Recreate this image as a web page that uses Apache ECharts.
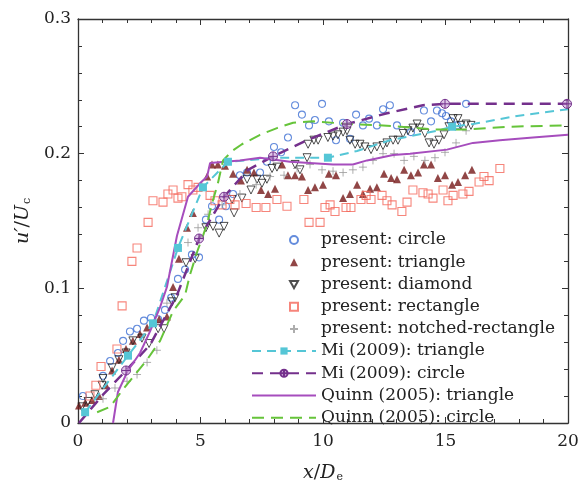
<!DOCTYPE html>
<html>
<head>
<meta charset="utf-8">
<script src="https://cdn.jsdelivr.net/npm/echarts@6/dist/echarts.min.js"></script>
<style>
  html, body { margin: 0; padding: 0; background: #fff; }
  #chart { width: 582px; height: 488px; }
</style>
</head>
<body>
<div id="chart"></div>
<script>
// present measurements, [x/De, u'/Uc]
var circlePts = [[0.20,0.020],[1.02,0.035],[1.31,0.046],[1.63,0.052],[1.84,0.061],[2.12,0.068],[2.41,0.070],[2.69,0.076],[2.98,0.078],[3.27,0.077],
    [3.55,0.084],[3.80,0.093],[4.08,0.107],[4.37,0.114],[4.65,0.125],[4.94,0.123],[5.22,0.151],[5.47,0.161],[5.76,0.151],[6.04,0.161],
    [6.33,0.170],[6.61,0.184],[6.90,0.186],[7.43,0.186],[7.71,0.194],[8.00,0.205],[8.29,0.201],[8.57,0.212],[8.86,0.236],[9.14,0.229],
    [9.43,0.221],[9.67,0.225],[9.96,0.237],[10.24,0.224],[10.53,0.210],[10.82,0.223],[11.10,0.211],[11.35,0.229],[11.63,0.221],[11.88,0.226],
    [12.20,0.221],[12.45,0.233],[12.73,0.236],[13.02,0.221],[13.59,0.216],[14.12,0.232],[14.41,0.224],[14.65,0.232],[14.86,0.230],[15.02,0.228],
    [15.22,0.224],[15.47,0.221],[15.84,0.237]];
var trianglePts = [[0.04,0.013],[0.29,0.015],[0.57,0.017],[0.86,0.020],[1.14,0.028],[1.39,0.039],[1.67,0.047],[1.96,0.055],[2.24,0.061],[2.53,0.066],
    [2.82,0.071],[3.31,0.077],[3.63,0.079],[3.88,0.101],[4.12,0.122],[4.45,0.145],[4.69,0.156],[5.27,0.183],[5.47,0.192],[5.71,0.192],
    [6.00,0.191],[6.33,0.185],[6.65,0.180],[6.90,0.188],[7.18,0.186],[7.47,0.173],[7.76,0.170],[8.04,0.174],[8.33,0.192],[8.57,0.184],
    [8.86,0.184],[9.14,0.183],[9.39,0.173],[9.67,0.175],[10.00,0.177],[10.24,0.185],[10.53,0.184],[10.82,0.167],[11.10,0.170],[11.39,0.177],
    [11.63,0.170],[11.92,0.174],[12.20,0.175],[12.49,0.185],[12.78,0.182],[13.02,0.181],[13.31,0.188],[13.59,0.184],[13.88,0.186],[14.12,0.192],
    [14.41,0.192],[14.69,0.182],[14.98,0.184],[15.27,0.177],[15.51,0.179],[15.80,0.184],[16.08,0.188]];
var diamondPts = [[0.16,0.012],[0.41,0.016],[0.69,0.021],[0.98,0.028],[1.02,0.033],[1.39,0.041],[1.67,0.047],[1.96,0.052],[2.24,0.061],[2.61,0.063],
    [2.90,0.059],[3.27,0.070],[3.51,0.070],[3.84,0.090],[3.96,0.093],[4.41,0.119],[4.78,0.122],[5.22,0.145],[5.51,0.146],[5.76,0.141],
    [5.96,0.146],[6.29,0.166],[6.37,0.156],[6.69,0.167],[6.90,0.181],[7.06,0.173],[7.31,0.181],[7.51,0.178],[7.71,0.181],[7.92,0.189],
    [8.12,0.190],[8.86,0.192],[9.06,0.188],[9.35,0.197],[9.39,0.207],[9.63,0.210],[9.80,0.210],[10.20,0.212],[10.41,0.213],[10.61,0.214],
    [10.82,0.216],[10.98,0.217],[11.10,0.210],[11.31,0.207],[11.51,0.207],[11.71,0.205],[11.96,0.203],[12.20,0.205],[12.45,0.206],[12.61,0.208],
    [12.86,0.210],[13.06,0.210],[13.27,0.215],[13.47,0.217],[13.67,0.219],[13.84,0.222],[13.96,0.219],[14.16,0.215],[14.33,0.208],[14.53,0.207],
    [14.73,0.210],[14.94,0.214],[15.14,0.220],[15.31,0.226],[15.51,0.226],[15.63,0.221],[15.84,0.222],[16.04,0.221]];
var rectanglePts = [[0.49,0.020],[0.73,0.028],[0.94,0.042],[1.59,0.055],[1.80,0.087],[2.20,0.120],[2.41,0.130],[2.86,0.149],[3.06,0.165],[3.47,0.164],
    [3.67,0.170],[3.88,0.173],[4.08,0.167],[4.24,0.168],[4.49,0.177],[4.69,0.173],[4.90,0.175],[5.39,0.169],[5.59,0.165],[5.88,0.162],
    [6.20,0.166],[6.41,0.162],[6.86,0.163],[7.27,0.160],[7.67,0.160],[8.12,0.166],[8.53,0.161],[9.22,0.166],[9.43,0.149],[9.88,0.149],
    [10.08,0.160],[10.29,0.162],[10.49,0.157],[10.94,0.160],[11.14,0.160],[11.55,0.166],[11.76,0.169],[11.96,0.166],[12.41,0.169],[12.61,0.165],
    [12.82,0.162],[13.22,0.157],[13.43,0.164],[13.67,0.173],[14.08,0.171],[14.29,0.170],[14.49,0.167],[14.90,0.173],[15.10,0.165],[15.31,0.169],
    [15.71,0.170],[15.96,0.172],[16.37,0.179],[16.57,0.183],[16.78,0.180],[17.22,0.189]];
var notchedPts = [[1.02,0.018],[1.51,0.026],[2.00,0.031],[2.41,0.036],[2.82,0.045],[3.22,0.054],[3.63,0.089],[4.49,0.134],[4.90,0.145],[5.31,0.155],
    [5.88,0.162],[6.61,0.170],[7.27,0.177],[7.84,0.183],[8.41,0.184],[8.94,0.189],[9.47,0.192],[9.96,0.188],[10.41,0.187],[10.82,0.186],
    [11.22,0.188],[11.63,0.190],[12.04,0.195],[12.45,0.200],[12.90,0.200],[13.31,0.195],[13.71,0.198],[14.16,0.195],[14.57,0.197],[14.98,0.201],
    [15.43,0.208],[15.84,0.217]];

// reference curves
var miTriangle = [[0.29,0.008],[2.04,0.050],[3.06,0.074],[4.08,0.130],[5.10,0.175],[6.12,0.194],[8.12,0.197],[10.20,0.197],
    [11.39,0.202],[12.73,0.210],[14.65,0.217],[15.27,0.220],[16.12,0.222],[17.92,0.228],[20.0,0.233]];
var miTriangleMarked = [0, 1, 2, 3, 4, 5, 7, 11];
var miCircle = [[0.04,0.0],[1.02,0.021],[1.96,0.039],[2.94,0.058],[4.04,0.095],[4.94,0.137],[5.96,0.168],[6.94,0.188],[7.96,0.198],
    [9.35,0.210],[10.98,0.222],[12.61,0.230],[14.08,0.236],[14.98,0.237],[19.96,0.237]];
var miCircleMarked = [2, 5, 6, 8, 10, 13, 14];
var quinnTriangle = [[1.43,0.0],[1.63,0.023],[2.04,0.039],[2.53,0.052],[2.94,0.068],[3.35,0.086],[3.63,0.101],[4.04,0.139],[4.49,0.168],
    [4.98,0.178],[5.27,0.183],[5.39,0.193],[6.00,0.194],[6.61,0.195],[7.43,0.197],[8.65,0.194],[10.41,0.192],[11.22,0.192],[11.80,0.195],
    [12.86,0.199],[13.55,0.200],[15.06,0.203],[16.12,0.208],[17.22,0.210],[18.57,0.212],[20.0,0.214]];
var quinnCircle = [[0.78,0.008],[1.31,0.012],[1.84,0.025],[2.82,0.047],[3.35,0.061],[3.88,0.083],[4.37,0.095],[4.57,0.110],[4.86,0.127],
    [5.10,0.139],[5.27,0.148],[5.47,0.163],[5.71,0.178],[5.92,0.195],[6.29,0.202],[6.69,0.207],[7.43,0.214],[8.12,0.219],[8.78,0.223],
    [9.59,0.224],[11.10,0.222],[12.45,0.221],[14.49,0.218],[15.88,0.218],[17.51,0.220],[20.0,0.221]];

var seriesNames = ['present: circle', 'present: triangle', 'present: diamond', 'present: rectangle', 'present: notched-rectangle',
    'Mi (2009): triangle', 'Mi (2009): circle', 'Quinn (2005): triangle', 'Quinn (2005): circle'];
var xTicks = [0, 5, 10, 15, 20];
var yTicks = [0, 0.1, 0.2, 0.3];

var serif = 'DejaVu Serif';
var axisColor = '#333';
var legendFont = { fontFamily: serif, fontSize: 17, color: '#222', lineHeight: 18 };

// line data: a marker only on the listed points
function marked(pts, idx) {
    return pts.map(function(p, i){
        return idx.indexOf(i) >= 0 ? { value: p } : { value: p, symbol: 'none' };
    });
}

function frameAxis(pos, isX, main) {
    var ax = {
        type: 'value',
        position: pos,
        min: isX ? xTicks[0] : yTicks[0],
        max: isX ? xTicks[xTicks.length - 1] : yTicks[yTicks.length - 1],
        interval: isX ? xTicks[1] - xTicks[0] : yTicks[1] - yTicks[0],
        axisLine: { show: true, onZero: false, lineStyle: { color: axisColor, width: 1.3 } },
        axisTick: { show: true, inside: true, length: 6, lineStyle: { color: axisColor, width: 1 } },
        minorTick: { show: true, splitNumber: 5, length: 4, lineStyle: { color: axisColor, width: 1 } },
        splitLine: { show: false },
        axisLabel: { show: main, fontFamily: serif, fontSize: 17, color: '#222', margin: isX ? 10 : 7 }
    };
    return ax;
}

var xMain = frameAxis('bottom', true, true);
xMain.name = '{i|x}{n|/}{i|D}{s|e}';
xMain.nameLocation = 'middle';
xMain.nameGap = 40;
xMain.nameTextStyle = {
    rich: {
        i: { fontFamily: serif, fontStyle: 'italic', fontSize: 19, color: '#222' },
        n: { fontFamily: serif, fontSize: 19, color: '#222' },
        s: { fontFamily: serif, fontSize: 11, color: '#222', padding: [9, 0, 0, 1] }
    }
};
var yMain = frameAxis('left', false, true);
yMain.name = '{i|u′}{n|/}{i|U}{s|c}';
yMain.nameLocation = 'middle';
yMain.nameGap = 33;
yMain.nameTextStyle = xMain.nameTextStyle;
yMain.axisLabel.formatter = function(v){ return v === 0 ? '0' : v.toFixed(1); };

var option = {
    backgroundColor: '#fff',
    animation: false,
    grid: { left: 78, right: 14, top: 19, bottom: 57, containLabel: false },
    xAxis: [xMain, frameAxis('top', true, false)],
    yAxis: [yMain, frameAxis('right', false, false)],
    legend: [
        {
            // marker entries
            orient: 'vertical',
            left: 284,
            top: 226,
            itemWidth: 8,
            itemHeight: 8,
            itemGap: 4.25,
            textStyle: Object.assign({ padding: [0, 0, 0, 18] }, legendFont),
            data: [
                { name: seriesNames[0] },
                { name: seriesNames[1] },
                { name: seriesNames[2], icon: 'path://M0,0L10,0L5,9Z' },
                { name: seriesNames[3] },
                { name: seriesNames[4] }
            ]
        },
        {
            // line entries
            orient: 'vertical',
            left: 246,
            top: 337,
            itemWidth: 64,
            itemHeight: 9,
            itemGap: 4.25,
            textStyle: legendFont,
            data: [
                { name: seriesNames[5] },
                { name: seriesNames[6] },
                { name: seriesNames[7], itemStyle: { opacity: 0 } },
                { name: seriesNames[8], itemStyle: { opacity: 0 } }
            ]
        }
    ],
    series: [
        {
            name: seriesNames[0], type: 'scatter', data: circlePts,
            symbol: 'circle', symbolSize: 7,
            itemStyle: { color: 'rgba(255,255,255,0)', borderColor: '#3d6fd3', borderWidth: 1.1 }
        },
        {
            name: seriesNames[1], type: 'scatter', data: trianglePts,
            symbol: 'triangle', symbolSize: 8,
            itemStyle: { color: '#761818' }
        },
        {
            name: seriesNames[2], type: 'scatter', data: diamondPts,
            symbol: 'triangle', symbolSize: 8, symbolRotate: 180,
            itemStyle: { color: 'rgba(255,255,255,0)', borderColor: '#222', borderWidth: 1 }
        },
        {
            name: seriesNames[3], type: 'scatter', data: rectanglePts,
            symbol: 'rect', symbolSize: 8,
            itemStyle: { color: 'rgba(255,255,255,0)', borderColor: '#f4675a', borderWidth: 1.1 }
        },
        {
            name: seriesNames[4], type: 'scatter', data: notchedPts,
            symbol: 'path://M0,5L10,5M5,0L5,10', symbolSize: 8,
            itemStyle: { color: 'rgba(255,255,255,0)', borderColor: '#999', borderWidth: 1 }
        },
        {
            name: seriesNames[5], type: 'line', data: marked(miTriangle, miTriangleMarked),
            symbol: 'rect', symbolSize: 8, showSymbol: true,
            lineStyle: { color: '#55c6d6', width: 2, type: [9, 6] },
            itemStyle: { color: '#55c6d6' }
        },
        {
            name: seriesNames[6], type: 'line', data: marked(miCircle, miCircleMarked),
            symbol: 'path://M0,5A5,5,0,1,1,10,5A5,5,0,1,1,0,5ZM0,5L10,5M5,0L5,10', symbolSize: 9, showSymbol: true,
            lineStyle: { color: '#74308c', width: 2.5, type: [11, 7] },
            itemStyle: { color: 'rgba(200,160,215,0.6)', borderColor: '#74308c', borderWidth: 1 }
        },
        {
            name: seriesNames[7], type: 'line', data: quinnTriangle, symbol: 'none',
            lineStyle: { color: '#a64dbd', width: 2 },
            itemStyle: { color: '#a64dbd' }
        },
        {
            name: seriesNames[8], type: 'line', data: quinnCircle, symbol: 'none',
            lineStyle: { color: '#66c43a', width: 2, type: [12, 7] },
            itemStyle: { color: '#66c43a' }
        }
    ]
};

var myChart = echarts.init(document.getElementById('chart'), null, { renderer: 'canvas' });
myChart.setOption(option);
</script>
</body>
</html>
